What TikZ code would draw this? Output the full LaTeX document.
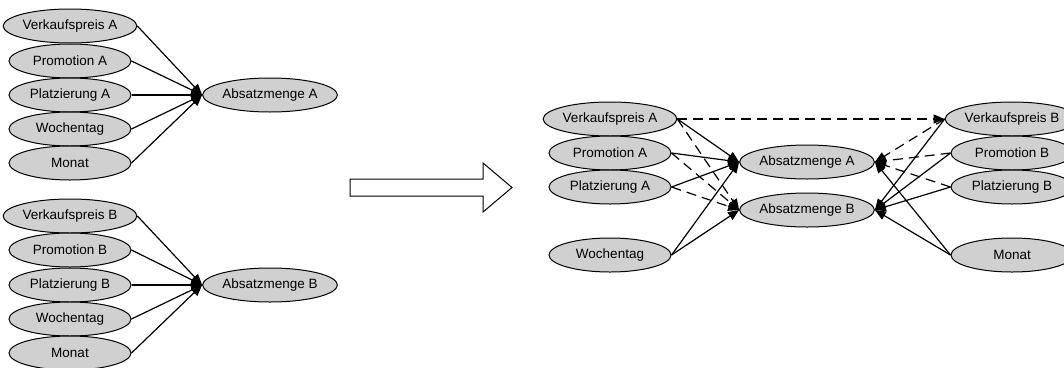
\documentclass[tikz,border=0pt]{standalone}
\usepackage{fontspec}
\setmainfont{Liberation Sans}
\usetikzlibrary{arrows.meta,shapes.geometric}
\definecolor{knotengrau}{RGB}{208,208,208}
\tikzset{
  var/.style = {ellipse, draw=black, fill=knotengrau, line width=1pt,
    inner sep=0pt, minimum width=122pt, minimum height=34pt,
    font=\fontsize{13.5}{15}\selectfont},% Einflussgroesse
  ziel/.style = {var, minimum width=128pt},% Absatzmenge, rechts
  kante/.style = {-{Triangle[length=11pt,width=9pt]}, line width=1.2pt},% direkter Einfluss
  quer/.style = {kante, dash pattern=on 10pt off 6pt},% Kreuzeinfluss
}
\begin{document}
\begin{tikzpicture}[x=1pt,y=-1pt]
\useasboundingbox (0,0) rectangle (1064,367);
% Modell A
\node[var] (vpA1) at (70,26) {Verkaufspreis A};
\node[var] (prA1) at (70,61) {Promotion A};
\node[var] (plA1) at (70,95) {Platzierung A};
\node[var] (woA1) at (70,129) {Wochentag};
\node[var] (moA1) at (70,163) {Monat};
\node[var] (abA1) at (270,95) {Absatzmenge A};
\draw[kante] (vpA1.east) -- (abA1.west);
\draw[kante] (prA1.east) -- (abA1.west);
\draw[kante] (plA1.east) -- (abA1.west);
\draw[kante] (woA1.east) -- (abA1.west);
\draw[kante] (moA1.east) -- (abA1.west);
% Modell B
\node[var] (vpB1) at (70,216) {Verkaufspreis B};
\node[var] (prB1) at (70,250) {Promotion B};
\node[var] (plB1) at (70,285) {Platzierung B};
\node[var] (woB1) at (70,319) {Wochentag};
\node[var] (moB1) at (70,353) {Monat};
\node[var] (abB1) at (270,285) {Absatzmenge B};
\draw[kante] (vpB1.east) -- (abB1.west);
\draw[kante] (prB1.east) -- (abB1.west);
\draw[kante] (plB1.east) -- (abB1.west);
\draw[kante] (woB1.east) -- (abB1.west);
\draw[kante] (moB1.east) -- (abB1.west);
% Blockpfeil
\draw[line width=1pt, fill=white] (350,179) -- (483,179) -- (483,163)
  -- (512,187.5) -- (483,212) -- (483,196) -- (350,196) -- cycle;
% gemeinsames Modell
\node[var] (vpA2) at (610,119) {Verkaufspreis A};
\node[var] (prA2) at (610,153) {Promotion A};
\node[var] (plA2) at (610,187) {Platzierung A};
\node[var] (woA2) at (610,255) {Wochentag};
\node[ziel] (abA2) at (807,162) {Absatzmenge A};
\node[ziel] (abB2) at (807,210) {Absatzmenge B};
\node[var] (vpB2) at (1012,119) {Verkaufspreis B};
\node[var] (prB2) at (1012,153) {Promotion B};
\node[var] (plB2) at (1012,187) {Platzierung B};
\node[var] (moB2) at (1012,255) {Monat};
\draw[kante] (vpA2.east) -- (abA2.west);
\draw[kante] (prA2.east) -- (abA2.west);
\draw[kante] (plA2.east) -- (abA2.west);
\draw[kante] (woA2.east) -- (abA2.west);
\draw[kante] (woA2.east) -- (abB2.west);
\draw[quer] (vpA2.east) -- (vpB2.west);
\draw[quer] (vpA2.east) -- (abB2.west);
\draw[quer] (prA2.east) -- (abB2.west);
\draw[quer] (plA2.east) -- (abB2.west);
\draw[kante] (vpB2.west) -- (abB2.east);
\draw[kante] (prB2.west) -- (abB2.east);
\draw[kante] (plB2.west) -- (abB2.east);
\draw[kante] (moB2.west) -- (abB2.east);
\draw[kante] (moB2.west) -- (abA2.east);
\draw[quer] (vpB2.west) -- (abA2.east);
\draw[quer] (prB2.west) -- (abA2.east);
\draw[quer] (plB2.west) -- (abA2.east);
\end{tikzpicture}
\end{document}
